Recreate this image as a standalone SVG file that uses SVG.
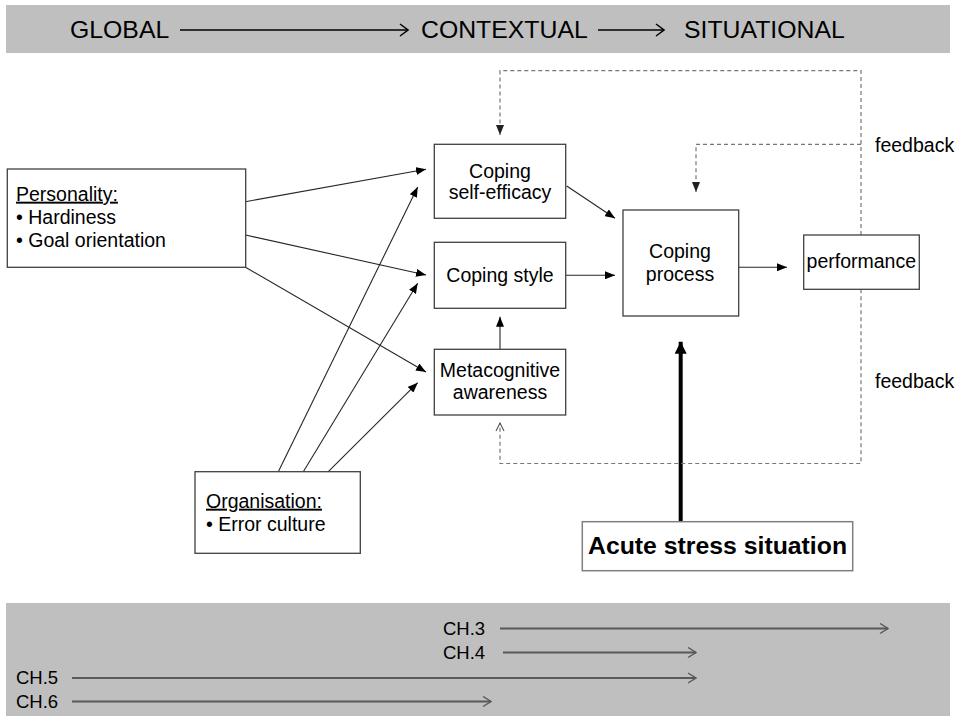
<svg xmlns="http://www.w3.org/2000/svg" width="957" height="716" viewBox="0 0 957 716">
<style>
text{font-family:"Liberation Sans",Arial,sans-serif;fill:#000}
.band{fill:#bfbfbf}
.node{fill:#fff;stroke:#404040;stroke-width:1.3}
.t19{font-size:19.5px}
.mid{text-anchor:middle}
.head{font-size:24.8px}
.ch{font-size:18.5px}
.conn{stroke:#262626;stroke-width:1.1;fill:none;marker-end:url(#ah)}
.dash{stroke:#777;stroke-width:1.2;stroke-dasharray:4 3;fill:none}
.charr{stroke:#595959;stroke-width:2;fill:none;marker-end:url(#opg)}
</style>
<defs>
<marker id="ah" viewBox="0 0 10 8" refX="10" refY="4" markerWidth="10" markerHeight="8" markerUnits="userSpaceOnUse" orient="auto"><path d="M0,0 L10,4 L0,8 z" fill="#000"/></marker>
<marker id="ahd" viewBox="0 0 10 8" refX="10" refY="4" markerWidth="10" markerHeight="8" markerUnits="userSpaceOnUse" orient="auto"><path d="M0,0 L10,4 L0,8 z" fill="#222"/></marker>
<marker id="thick" viewBox="0 0 12 12" refX="12" refY="6" markerWidth="12" markerHeight="12" markerUnits="userSpaceOnUse" orient="auto"><path d="M0,0 L12,6 L0,12 z" fill="#000"/></marker>
<marker id="opb" viewBox="0 0 10 14" refX="9" refY="7" markerWidth="10" markerHeight="14" markerUnits="userSpaceOnUse" orient="auto"><path d="M1,1 L9,7 L1,13" fill="none" stroke="#000" stroke-width="1.4"/></marker>
<marker id="opg" viewBox="0 0 10 12" refX="9" refY="6" markerWidth="10" markerHeight="12" markerUnits="userSpaceOnUse" orient="auto"><path d="M1,1 L9,6 L1,11" fill="none" stroke="#595959" stroke-width="1.4"/></marker>
<marker id="opd" viewBox="0 0 10 10" refX="9" refY="5" markerWidth="10" markerHeight="10" markerUnits="userSpaceOnUse" orient="auto"><path d="M1,1 L9,5 L1,9" fill="none" stroke="#555" stroke-width="1.1"/></marker>
</defs>

<g id="top-band">
<rect class="band" x="6" y="5" width="944" height="48"/>
<text class="head" x="70" y="38">GLOBAL</text>
<text class="head" x="421" y="38">CONTEXTUAL</text>
<text class="head" x="684" y="38">SITUATIONAL</text>
<line x1="180" y1="30" x2="408" y2="30" stroke="#000" stroke-width="1.5" marker-end="url(#opb)"/>
<line x1="598" y1="30" x2="664" y2="30" stroke="#000" stroke-width="1.5" marker-end="url(#opb)"/>
</g>

<g id="bottom-band">
<rect class="band" x="6" y="603" width="944" height="113"/>
<text class="ch" x="443" y="635">CH.3</text>
<text class="ch" x="443" y="659">CH.4</text>
<text class="ch" x="16" y="684">CH.5</text>
<text class="ch" x="16" y="708">CH.6</text>
<line class="charr" x1="500" y1="628.5" x2="888" y2="628.5"/>
<line class="charr" x1="503" y1="652.5" x2="696" y2="652.5"/>
<line class="charr" x1="72" y1="678" x2="696" y2="678"/>
<line class="charr" x1="72" y1="701.5" x2="491" y2="701.5"/>
</g>

<g id="connectors">
<line class="conn" x1="245.5" y1="201.7" x2="426" y2="169.3"/>
<line class="conn" x1="245.5" y1="235" x2="426" y2="275"/>
<line class="conn" x1="245.5" y1="267.3" x2="426" y2="372"/>
<line class="conn" x1="278.3" y1="471.7" x2="417.7" y2="187"/>
<line class="conn" x1="303.3" y1="471.7" x2="417.7" y2="283.3"/>
<line class="conn" x1="328.3" y1="471.7" x2="417.7" y2="382.7"/>
<line class="conn" x1="566.7" y1="186" x2="615" y2="218.3"/>
<line class="conn" x1="566" y1="275.3" x2="615" y2="275.3"/>
<line class="conn" x1="500" y1="349.3" x2="500" y2="316.7"/>
<line class="conn" x1="739" y1="267.3" x2="787" y2="267.3"/>
<line x1="680.7" y1="521.7" x2="680.7" y2="341.7" stroke="#000" stroke-width="4" marker-end="url(#thick)"/>
<path class="dash" d="M861,235 V70.7 H500 V135" marker-end="url(#ahd)"/>
<path class="dash" d="M861,144.3 H696 V192" marker-end="url(#ahd)"/>
<path class="dash" d="M861,289.3 V463.5 H500 V423" marker-end="url(#opd)"/>
</g>

<g id="personality">
<rect class="node" x="7.3" y="169" width="238.4" height="98.3"/>
<text class="t19" x="16" y="200.7" text-decoration="underline">Personality:</text>
<text class="t19" x="16" y="224">• Hardiness</text>
<text class="t19" x="16" y="247.3">• Goal orientation</text>
</g>

<g id="organisation">
<rect class="node" x="195" y="471.7" width="165.3" height="81.6"/>
<text class="t19" x="206" y="507.7" text-decoration="underline">Organisation:</text>
<text class="t19" x="206" y="530.7">• Error culture</text>
</g>

<g id="coping-self-efficacy">
<rect class="node" x="434.3" y="144.3" width="131.4" height="74"/>
<text class="t19 mid" x="500" y="177.7">Coping</text>
<text class="t19 mid" x="500" y="199.3">self-efficacy</text>
</g>

<g id="coping-style">
<rect class="node" x="434.3" y="242.3" width="131.4" height="66"/>
<text class="t19 mid" x="500" y="281.7">Coping style</text>
</g>

<g id="metacognitive-awareness">
<rect class="node" x="434.3" y="349.3" width="131.4" height="65.7"/>
<text class="t19 mid" x="500" y="376.7">Metacognitive</text>
<text class="t19 mid" x="500" y="399.3">awareness</text>
</g>

<g id="coping-process">
<rect class="node" x="623" y="210" width="115.7" height="106"/>
<text class="t19 mid" x="680" y="258.3">Coping</text>
<text class="t19 mid" x="680" y="280.7">process</text>
</g>

<g id="performance">
<rect class="node" x="803.7" y="235" width="115.6" height="54.3"/>
<text class="t19 mid" x="861.3" y="268">performance</text>
</g>

<g id="feedback-labels">
<text class="t19" x="875" y="152.3">feedback</text>
<text class="t19" x="875" y="388.3">feedback</text>
</g>

<g id="acute-stress-situation">
<rect x="582.3" y="521.7" width="270.4" height="49" fill="#fff" stroke="#7f7f7f" stroke-width="1.5"/>
<text class="mid" x="717.5" y="554" font-size="24.8" font-weight="bold">Acute stress situation</text>
</g>
</svg>
